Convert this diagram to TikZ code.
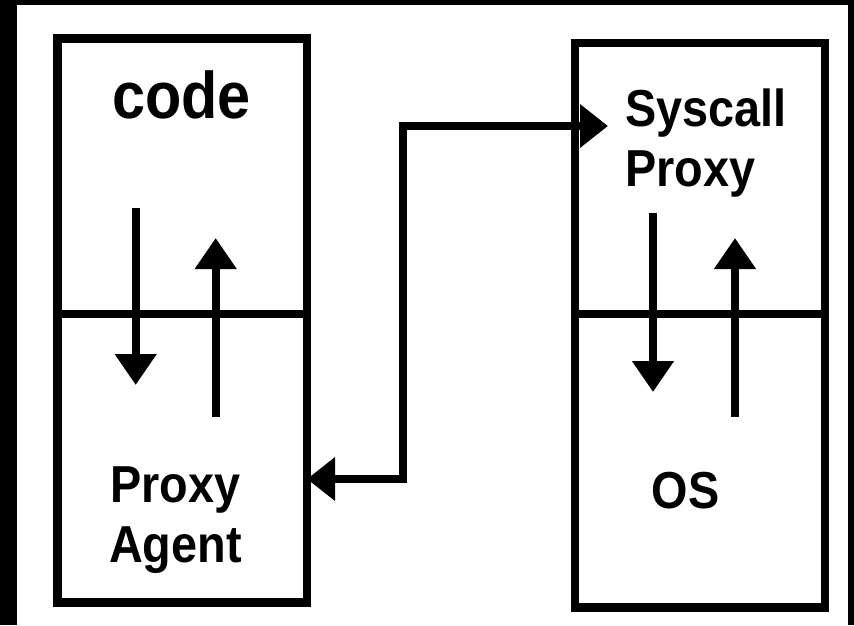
\documentclass[tikz,border=0pt]{standalone}
\usepackage{fontspec}
\newfontfamily\lblfont{Liberation Sans}[FakeStretch=0.9]
\usetikzlibrary{arrows.meta}
\begin{document}
\begin{tikzpicture}[x=1pt,y=-1pt,
  frame/.style={draw=black, line width=8.5pt},
  hostbox/.style={frame, inner sep=0pt, anchor=north west},
  flow/.style={line width=8pt, -{Triangle[length=31pt,width=40pt]}},
  link/.style={line width=8pt,
    {Triangle[length=28pt,width=42pt]}-{Triangle[length=28pt,width=42pt]}},
  lbl/.style={font=\lblfont\bfseries\fontsize{52}{60}\selectfont, inner sep=0pt},
  biglbl/.style={font=\lblfont\bfseries\fontsize{66}{72}\selectfont, inner sep=0pt}]

% dark surround
\fill[black] (0,0) rectangle (854,625);
\fill[white] (17,5) rectangle (848,625);
\useasboundingbox (0,0) rectangle (854,625);

% the two hosts
\node[hostbox, minimum width=249.5pt, minimum height=564pt] (hostL) at (53,34) {};
\node[hostbox, minimum width=250pt, minimum height=564.5pt] (hostR) at (570.5,38.5) {};

% layer dividers
\coordinate (split) at (0,314);
\draw[frame] (hostL.west |- split) -- (hostL.east |- split);
\draw[frame] (hostR.west |- split) -- (hostR.east |- split);

% labels (base of a two-line label is its last line)
\node[biglbl, anchor=base] (code) at (181.5,118) {code};
\node[lbl, align=center, anchor=base] (agent) at (175.5,562) {Proxy\\Agent};
\node[lbl, align=left, anchor=base west] (sys) at (625,186) {Syscall\\Proxy};
\node[lbl, anchor=base] (os) at (685.5,508) {OS};

% calls down and results up, left host
\coordinate (lda) at (135.7,208);
\coordinate (ldb) at (135.7,385);
\coordinate (lua) at (215.7,417);
\coordinate (lub) at (215.7,238);
\draw[flow] (lda) -- (ldb);
\draw[flow] (lua) -- (lub);

% calls down and results up, right host
\coordinate (rda) at (653,213);
\coordinate (rdb) at (653,392);
\coordinate (rua) at (735,417);
\coordinate (rub) at (735,238);
\draw[flow] (rda) -- (rdb);
\draw[flow] (rua) -- (rub);

% link between agent and syscall proxy
\coordinate (agentTip) at (307,479);
\coordinate (jog) at (403,126);
\coordinate (sysTip) at (608,126);
\draw[link] (agentTip) -| (jog) -- (sysTip);
\end{tikzpicture}
\end{document}
